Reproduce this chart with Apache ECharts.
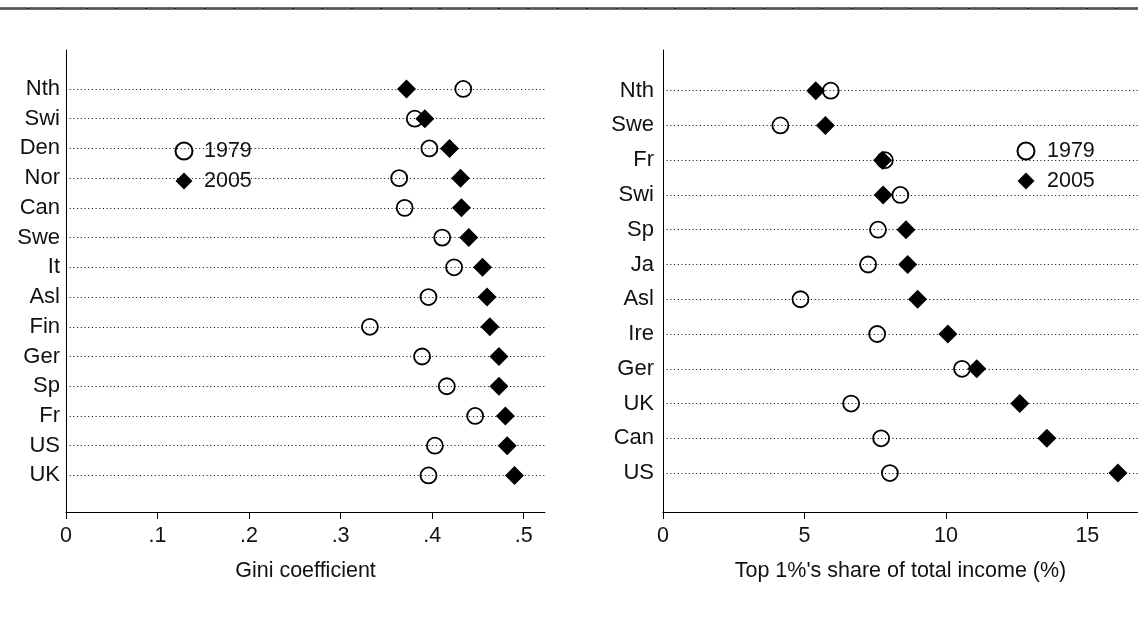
<!DOCTYPE html>
<html>
<head>
<meta charset="utf-8">
<script src="https://cdn.jsdelivr.net/npm/echarts@6/dist/echarts.min.js"></script>
<style>
html, body { margin: 0; background: #fff; }
#main { width: 1138px; height: 634px; }
</style>
</head>
<body>
<div id="main"></div>
<script>
// left panel: Gini coefficient
var giniCountries = ['Nth','Swi','Den','Nor','Can','Swe','It','Asl','Fin','Ger','Sp','Fr','US','UK'];
var gini1979 = [0.434, 0.381, 0.397, 0.364, 0.370, 0.411, 0.424, 0.396, 0.332, 0.389, 0.416, 0.447, 0.403, 0.396];
var gini2005 = [0.372, 0.392, 0.419, 0.431, 0.432, 0.440, 0.455, 0.460, 0.463, 0.473, 0.473, 0.480, 0.482, 0.490];
var giniTicks = [0, 0.1, 0.2, 0.3, 0.4, 0.5];

// right panel: top 1% income share
var topCountries = ['Nth','Swe','Fr','Swi','Sp','Ja','Asl','Ire','Ger','UK','Can','US'];
var top1979 = [5.93, 4.15, 7.84, 8.39, 7.60, 7.25, 4.86, 7.57, 10.57, 6.65, 7.71, 8.02];
var top2005 = [5.40, 5.74, 7.76, 7.78, 8.59, 8.65, 9.00, 10.07, 11.09, 12.61, 13.57, 16.08];
var topTicks = [0, 5, 10, 15];

var FONT = 'Liberation Sans, Arial, sans-serif';
var INK = '#111';

function pts(vals) {
    return vals.map(function (v, i) { return [v, i]; });
}
function rowLines(cats) {
    return cats.map(function (c, i) { return { yAxis: i }; });
}
function idx(cats) {
    return cats.map(function (c, i) { return i; });
}

var hollow = { color: 'transparent', borderColor: '#000', borderWidth: 1.8, opacity: 1 };
var solid = { color: '#000', opacity: 1 };
var dotted = {
    silent: true,
    symbol: ['none', 'none'],
    label: { show: false },
    animation: false,
    lineStyle: { color: '#000', width: 1, type: [1, 2.7], opacity: 1 },
    emphasis: { disabled: true }
};

function xAxisOf(gridIndex, max, ticks, name, fmt) {
    return {
        type: 'value', gridIndex: gridIndex, min: 0, max: max, position: 'bottom',
        axisLine: { onZero: false, lineStyle: { color: '#000', width: 1 } },
        axisTick: { length: 7, lineStyle: { color: '#000' }, customValues: ticks },
        axisLabel: { customValues: ticks, formatter: fmt, color: INK, fontSize: 21.5, fontFamily: FONT, margin: 13 },
        splitLine: { show: false },
        name: name, nameLocation: 'middle', nameGap: 48,
        nameTextStyle: { color: INK, fontSize: 21.5, fontFamily: FONT }
    };
}
function yAxisOf(gridIndex, cats, min, max, margin) {
    return {
        type: 'value', gridIndex: gridIndex, inverse: true, min: min, max: max, position: 'left',
        axisLine: { show: true, onZero: false, lineStyle: { color: '#000', width: 1 } },
        axisTick: { show: false },
        axisLabel: {
            customValues: idx(cats),
            formatter: function (v) { return cats[v]; },
            color: INK, fontSize: 22, fontFamily: FONT, margin: margin
        },
        splitLine: { show: false }
    };
}
function legendOf(left, pad, textPad) {
    return {
        orient: 'vertical', left: left, top: 135,
        data: [
            { name: '1979', icon: 'circle' },
            { name: '2005', icon: 'path://M0,-10L10,0L0,10L-10,0Z' }
        ],
        backgroundColor: '#fff',
        padding: pad,
        itemWidth: 17, itemHeight: 17, itemGap: 8,
        selectedMode: false,
        textStyle: { color: INK, fontSize: 21.5, fontFamily: FONT, padding: [0, 0, 0, textPad] }
    };
}

var chart = echarts.init(document.getElementById('main'));
chart.setOption({
    animation: false,
    backgroundColor: '#fff',
    graphic: [
        { type: 'line', shape: { x1: 0, y1: 8.5, x2: 1138, y2: 8.5 }, style: { stroke: '#111', lineWidth: 2.2 } },
        { type: 'line', shape: { x1: 0, y1: 8.5, x2: 1138, y2: 8.5 }, style: { stroke: '#555', lineWidth: 2.2, lineDash: [27.4, 2] } }
    ],
    grid: [
        { left: 66, top: 50, width: 479, height: 462 },
        { left: 663, top: 50, width: 475, height: 462 }
    ],
    legend: [
        legendOf(163, [5, 11, 5, 11.5], 6.5),
        legendOf(1007, [5, 13, 5, 9.5], 7.5)
    ],
    xAxis: [
        xAxisOf(0, 0.5233, giniTicks, 'Gini coefficient',
            function (v) { return v === 0 ? '0' : String(Math.round(v * 10) / 10).replace(/^0/, ''); }),
        xAxisOf(1, 16.79, topTicks, "Top 1%'s share of total income (%)",
            function (v) { return String(v); })
    ],
    yAxis: [
        yAxisOf(0, giniCountries, -1.31, 14.23, 6),
        yAxisOf(1, topCountries, -1.17, 12.12, 9)
    ],
    series: [
        {
            name: '1979', type: 'scatter', xAxisIndex: 0, yAxisIndex: 0,
            symbol: 'circle', symbolSize: 16, itemStyle: hollow,
            data: pts(gini1979),
            markLine: Object.assign({ data: rowLines(giniCountries) }, dotted)
        },
        {
            name: '2005', type: 'scatter', xAxisIndex: 0, yAxisIndex: 0,
            symbol: 'diamond', symbolSize: 19, itemStyle: solid,
            data: pts(gini2005)
        },
        {
            name: '1979', type: 'scatter', xAxisIndex: 1, yAxisIndex: 1,
            symbol: 'circle', symbolSize: 16, itemStyle: hollow,
            data: pts(top1979),
            markLine: Object.assign({ data: rowLines(topCountries) }, dotted)
        },
        {
            name: '2005', type: 'scatter', xAxisIndex: 1, yAxisIndex: 1,
            symbol: 'diamond', symbolSize: 19, itemStyle: solid,
            data: pts(top2005)
        }
    ]
});
</script>
</body>
</html>
